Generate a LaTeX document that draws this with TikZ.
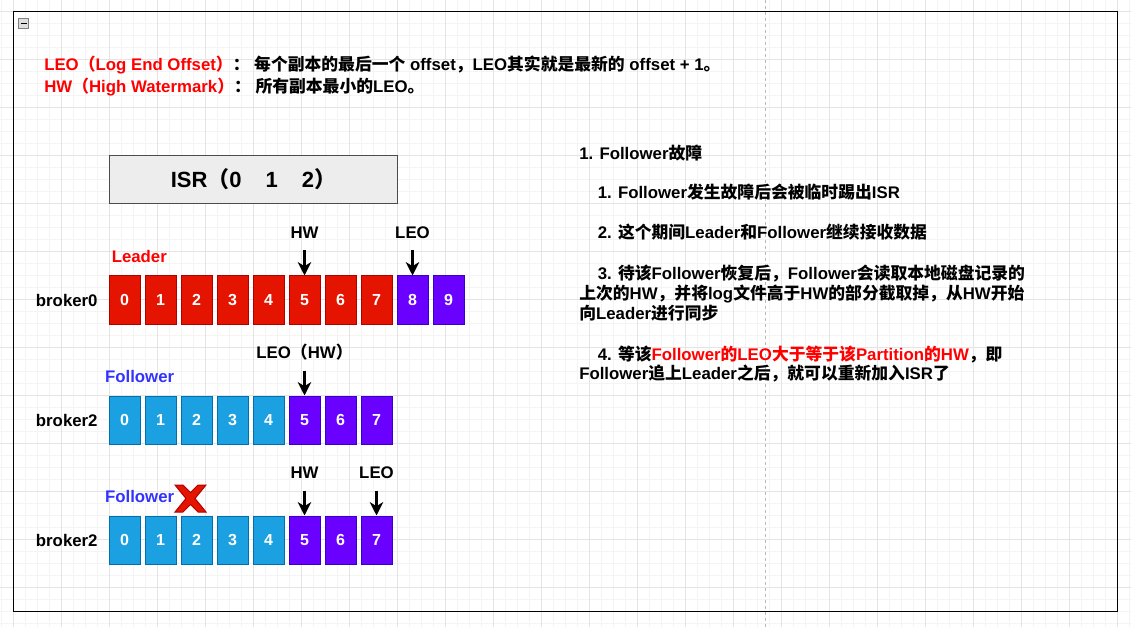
\documentclass[tikz,border=0pt]{standalone}
\usepackage{fontspec}
\setmainfont{Liberation Sans}
\newfontfamily\cjk{Noto Sans CJK SC}
\usetikzlibrary{arrows.meta,positioning}

\definecolor{cellred}{HTML}{E51400}
\definecolor{cellredline}{HTML}{B20000}
\definecolor{cellpurple}{HTML}{6A00FF}
\definecolor{cellpurpleline}{HTML}{3700CC}
\definecolor{cellblue}{HTML}{1BA1E2}
\definecolor{cellblueline}{HTML}{006EAF}
\definecolor{followblue}{HTML}{3333FF}
\definecolor{gridlo}{HTML}{F4F4F4}
\definecolor{gridhi}{HTML}{E4E4E4}
\newcommand{\zh}[1]{{\cjk #1}}

\begin{document}
\begin{tikzpicture}[x=0.75pt, y=-0.75pt,
  every node/.style={font=\bfseries\fontsize{12.6}{15}\selectfont, inner sep=0pt},
  >={Stealth[length=10pt, width=10pt, inset=3pt]},
  gridminor/.style={draw=gridlo, line width=0.75pt},
  gridmajor/.style={draw=gridhi, line width=0.75pt},
  cell/.style={draw, line width=0.75pt, minimum width=23.25pt, minimum height=36pt, text=white, font=\bfseries\fontsize{12}{14}\selectfont},
  redcell/.style={cell, fill=cellred, draw=cellredline},
  purplecell/.style={cell, fill=cellpurple, draw=cellpurpleline},
  bluecell/.style={cell, fill=cellblue, draw=cellblueline},
  tag/.style={text depth=0pt},
  ptr/.style={->, line width=1.8pt, shorten <=9pt}]
	\useasboundingbox[fill=white] (0,0) rectangle (1131,627);
	% canvas grid
	\foreach \gx in {1.3,13.3,...,1131} \draw[gridminor] (\gx,0) -- (\gx,627);
	\foreach \gy in {-0.3,11.7,...,627} \draw[gridminor] (0,\gy) -- (1131,\gy);
	\foreach \gx in {13.3,61.3,...,1131} \draw[gridmajor] (\gx,0) -- (\gx,627);
	\foreach \gy in {11.7,59.7,...,627} \draw[gridmajor] (0,\gy) -- (1131,\gy);
	\draw[gray!55, line width=0.75pt, dash pattern=on 2.25pt off 2.25pt] (765.7,0) -- (765.7,627);
	\draw[line width=0.75pt] (13.3,11.7) rectangle (1117.3,611.5);
	\draw[gray, fill=gray!25, line width=0.75pt] (18.5,18.5) rectangle (28.5,28.5);
	\draw[line width=1.1pt] (20.5,23.5) -- (26.5,23.5);
	% definitions
	\node[anchor=base west] (leodef) at (44,71) {{\color{red}LEO\zh{（}Log End Offset\zh{）}}\zh{：} \zh{每个副本的最后一个} offset\zh{，}LEO\zh{其实就是最新的} offset + 1\zh{。}};
	\node[anchor=base west] (hwdef) at (44,92.5) {{\color{red}HW\zh{（}High Watermark\zh{）}}\zh{：} \zh{所有副本最小的}LEO\zh{。}};
	% ISR
	\node[draw=black!70, fill=black!7, line width=0.75pt, minimum width=216pt, minimum height=35.6pt, font=\bfseries\fontsize{16.5}{20}\selectfont] (isr) at (253.5,179.5) {ISR\zh{（}0\hspace{18pt}1\hspace{18pt}2\zh{）}\hspace{6.5pt}};
	% broker0, leader
	\foreach \i in {0,...,7} \node[redcell] (a\i) at ({124.5+36*\i},300) {\i};
	\foreach \i in {8,9} \node[purplecell] (a\i) at ({124.5+36*\i},300) {\i};
	\node[left=8pt of a0] (brk0) {broker0};
	\node[anchor=base west, text=red] (lead) at (111.5,262.5) {Leader};
	\node[tag, above=27.75pt of a5] (hwa) {HW};
	\node[tag, above=27.75pt of a8] (leoa) {LEO};
	\draw[ptr] (hwa) -- (a5);
	\draw[ptr] (leoa) -- (a8);
	% broker2, follower in sync
	\foreach \i in {0,...,4} \node[bluecell] (b\i) at ({124.5+36*\i},420) {\i};
	\foreach \i in {5,6,7} \node[purplecell] (b\i) at ({124.5+36*\i},420) {\i};
	\node[left=8pt of b0] (brk2) {broker2};
	\node[anchor=base west, text=followblue] (follb) at (104.8,382.7) {Follower};
	\node[tag, above=27.75pt of b5] (leob) {LEO\zh{（}HW\zh{）}};
	\draw[ptr] (leob) -- (b5);
	% broker2, failed follower
	\foreach \i in {0,...,4} \node[bluecell] (c\i) at ({124.5+36*\i},540) {\i};
	\foreach \i in {5,6,7} \node[purplecell] (c\i) at ({124.5+36*\i},540) {\i};
	\node[left=8pt of c0] (brk2c) {broker2};
	\node[anchor=base west, text=followblue] (follc) at (104.8,502.7) {Follower};
	\filldraw[fill=cellred, draw=cellredline, line width=0.75pt] (175,485) -- (183,485) -- (190.5,492.5) -- (198,485) -- (206,485) -- (195,498.5) -- (206,512) -- (198,512) -- (190.5,504.5) -- (183,512) -- (175,512) -- (186,498.5) -- cycle;
	\node[tag, above=27.75pt of c5] (hwc) {HW};
	\node[tag, above=27.75pt of c7] (leoc) {LEO};
	\draw[ptr] (hwc) -- (c5);
	\draw[ptr] (leoc) -- (c7);
	% notes
	\node[anchor=base west] (n1) at (579,159.5) {1. Follower\zh{故障}};
	\node[anchor=base west] (n2) at (597.5,199) {1. Follower\zh{发生故障后会被临时踢出}ISR};
	\node[anchor=base west] (n3) at (597.5,239) {2. \zh{这个期间}Leader\zh{和}Follower\zh{继续接收数据}};
	\node[anchor=base west] (n4) at (597.5,280) {3. \zh{待该}Follower\zh{恢复后，}Follower\zh{会读取本地磁盘记录的}};
	\node[anchor=base west] (n5) at (579,299.5) {\zh{上次的}HW\zh{，并将}log\zh{文件高于}HW\zh{的部分截取掉，从}HW\zh{开始}};
	\node[anchor=base west] (n6) at (579,319.5) {\zh{向}Leader\zh{进行同步}};
	\node[anchor=base west] (n7) at (597.5,360.5) {4. \zh{等该}{\color{red}Follower\zh{的}LEO\zh{大于等于该}Partition\zh{的}HW}\zh{，即}};
	\node[anchor=base west] (n8) at (579,379.5) {Follower\zh{追上}Leader\zh{之后，就可以重新加入}ISR\zh{了}};
\end{tikzpicture}
\end{document}
